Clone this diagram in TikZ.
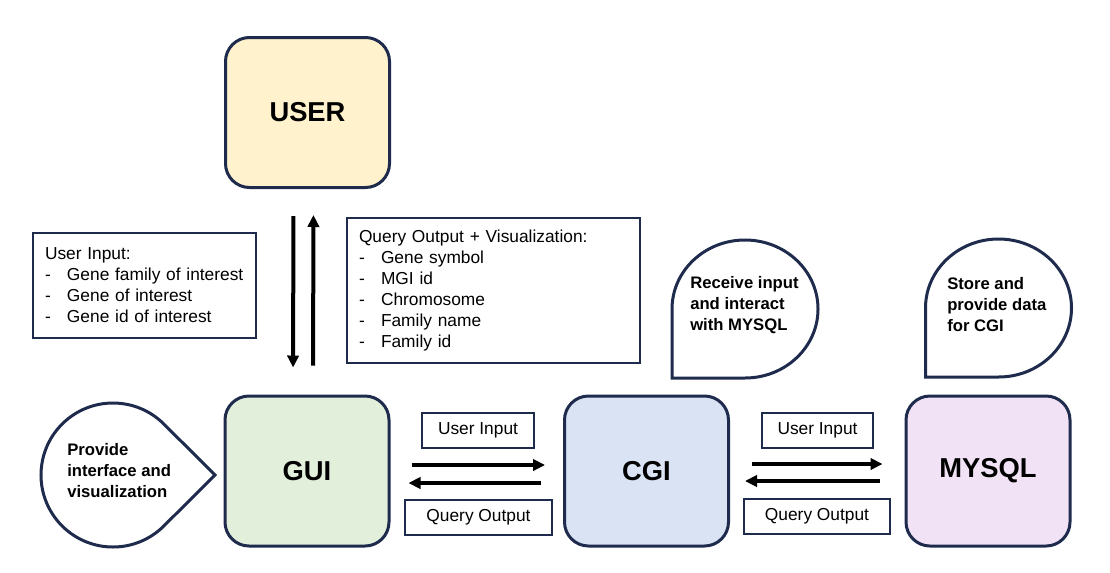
\documentclass[tikz,border=0pt]{standalone}
\usepackage{fontspec}
\setmainfont{Liberation Sans}
\usetikzlibrary{arrows.meta}

\definecolor{navy}{HTML}{1F2B4D}
\definecolor{userfill}{HTML}{FFF2CC}
\definecolor{guifill}{HTML}{E2EFDA}
\definecolor{cgifill}{HTML}{DAE3F3}
\definecolor{sqlfill}{HTML}{F1E3F5}

\newcommand{\dashitem}[1]{\makebox[16.5pt][l]{-}#1}

\begin{document}
\begin{tikzpicture}[x=0.75pt,y=0.75pt,>={Triangle[length=9pt,width=8.5pt]}]
        \tikzset{
            mainbox/.style={draw=navy, line width=2.25pt, rounded corners=18pt, minimum width=123pt, minimum height=112.5pt, font=\fontsize{20.5}{24}\selectfont\bfseries},
            listbox/.style={draw=navy, line width=1.1pt, align=left, inner xsep=9pt, font=\fontsize{13}{15.75}\selectfont},
            tagbox/.style={draw=navy, line width=1.1pt, minimum height=26.25pt, font=\fontsize{13}{15.75}\selectfont},
            bubble/.style={draw=navy, line width=2.25pt},
            bubbletext/.style={align=left, anchor=west, inner sep=0pt, font=\fontsize{12.5}{15.75}\selectfont\bfseries},
            flow/.style={->, line width=3pt}
        }
        \useasboundingbox (0,0) rectangle (1110,-572);

        % main blocks
        \node[mainbox, fill=userfill] (user) at (307.5,-112.5) {USER};
        \node[mainbox, fill=guifill] (gui) at (307,-471) {GUI};
        \node[mainbox, fill=cgifill] (cgi) at (646.5,-471) {CGI};
        \node[mainbox, fill=sqlfill] (mysql) at (988,-471) {MYSQL};

        % lists
        \node[listbox, text width=149.25pt, minimum height=78.75pt] (inlist) at (144.5,-285.5)
            {User Input:\\\dashitem{Gene family of interest}\\\dashitem{Gene of interest}\\\dashitem{Gene id of interest}};
        \node[listbox, text width=201.75pt, minimum height=108.75pt] (outlist) at (493.5,-290.5)
            {Query Output + Visualization:\\\dashitem{Gene symbol}\\\dashitem{MGI id}\\\dashitem{Chromosome}\\\dashitem{Family name}\\\dashitem{Family id}};

        % user <-> gui
        \draw[flow, shorten <=20.25pt, shorten >=20.25pt] ([xshift=-10.5pt]user.south) -- ([xshift=-10.5pt]gui.north);
        \draw[flow, shorten <=21.75pt, shorten >=19.5pt] ([xshift=4.5pt]gui.north) -- ([xshift=4.5pt]user.south);

        % gui <-> cgi
        \draw[flow, shorten <=15.75pt, shorten >=13.5pt] ([yshift=4.5pt]gui.east) -- ([yshift=4.5pt]cgi.west);
        \draw[flow, shorten <=16.5pt, shorten >=13.5pt] ([yshift=-9pt]cgi.west) -- ([yshift=-9pt]gui.east);
        \node[tagbox, minimum width=84pt] (in1) at (478,-430.5) {User Input};
        \node[tagbox, minimum width=110.25pt] (out1) at (478.5,-517.5) {Query Output};

        % cgi <-> mysql
        \draw[flow, shorten <=16.5pt, shorten >=16.5pt] ([yshift=5.25pt]cgi.east) -- ([yshift=5.25pt]mysql.west);
        \draw[flow, shorten <=18.75pt, shorten >=11.25pt] ([yshift=-7.5pt]mysql.west) -- ([yshift=-7.5pt]cgi.east);
        \node[tagbox, minimum width=83.25pt] (in2) at (817.5,-430.5) {User Input};
        \node[tagbox, minimum width=109.5pt] (out2) at (817,-516.5) {Query Output};

        % notes
        \draw[bubble] (113,-475) ++(45:72) arc[start angle=45, end angle=315, radius=54pt] -- (215,-475) -- cycle;
        \draw[bubble] (745,-378) arc[start angle=-90, end angle=180, x radius=54.75pt, y radius=51.75pt] -- (672,-378) -- cycle;
        \draw[bubble] (998.5,-377) arc[start angle=-90, end angle=180, x radius=54.75pt, y radius=51.75pt] -- (925.5,-377) -- cycle;
        \node[bubbletext] (guinote) at (67,-471) {Provide\\interface and\\visualization};
        \node[bubbletext] (cginote) at (690,-305) {Receive input\\and interact\\with MYSQL};
        \node[bubbletext] (sqlnote) at (947,-305) {Store and\\provide data\\for CGI};
    \end{tikzpicture}
\end{document}
